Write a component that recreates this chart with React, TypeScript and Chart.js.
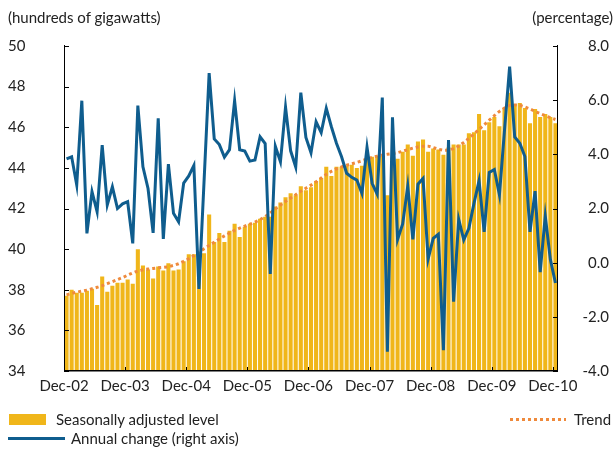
import React, { useEffect, useRef } from 'react';
import { Chart, registerables } from 'chart.js';

Chart.register(...registerables);

const categories = [
  'Dec-02',
  'Jan-03', 'Feb-03', 'Mar-03', 'Apr-03', 'May-03', 'Jun-03', 'Jul-03', 'Aug-03', 'Sep-03', 'Oct-03', 'Nov-03', 'Dec-03',
  'Jan-04', 'Feb-04', 'Mar-04', 'Apr-04', 'May-04', 'Jun-04', 'Jul-04', 'Aug-04', 'Sep-04', 'Oct-04', 'Nov-04', 'Dec-04',
  'Jan-05', 'Feb-05', 'Mar-05', 'Apr-05', 'May-05', 'Jun-05', 'Jul-05', 'Aug-05', 'Sep-05', 'Oct-05', 'Nov-05', 'Dec-05',
  'Jan-06', 'Feb-06', 'Mar-06', 'Apr-06', 'May-06', 'Jun-06', 'Jul-06', 'Aug-06', 'Sep-06', 'Oct-06', 'Nov-06', 'Dec-06',
  'Jan-07', 'Feb-07', 'Mar-07', 'Apr-07', 'May-07', 'Jun-07', 'Jul-07', 'Aug-07', 'Sep-07', 'Oct-07', 'Nov-07', 'Dec-07',
  'Jan-08', 'Feb-08', 'Mar-08', 'Apr-08', 'May-08', 'Jun-08', 'Jul-08', 'Aug-08', 'Sep-08', 'Oct-08', 'Nov-08', 'Dec-08',
  'Jan-09', 'Feb-09', 'Mar-09', 'Apr-09', 'May-09', 'Jun-09', 'Jul-09', 'Aug-09', 'Sep-09', 'Oct-09', 'Nov-09', 'Dec-09',
  'Jan-10', 'Feb-10', 'Mar-10', 'Apr-10', 'May-10', 'Jun-10', 'Jul-10', 'Aug-10', 'Sep-10', 'Oct-10', 'Nov-10', 'Dec-10',
];

// Seasonally adjusted level (hundreds of gigawatts), left axis
const seasonallyAdjusted = [
  37.7,
  38.0, 37.85, 37.85, 37.95, 38.05, 37.25, 38.65, 37.9, 38.2, 38.35, 38.35, 38.5,
  38.3, 40.0, 39.2, 39.0, 38.55, 39.15, 38.95, 39.3, 38.95, 39.0, 39.4, 39.75,
  39.75, 39.85, 39.8, 41.7, 40.35, 40.8, 40.35, 40.9, 41.25, 40.6, 41.1, 41.25,
  41.3, 41.5, 41.6, 41.6, 42.1, 42.3, 42.55, 42.75, 42.65, 43.1, 42.9, 43.05,
  43.35, 43.5, 44.05, 43.6, 44.05, 44.05, 44.1, 44.15, 44.0, 44.1, 44.45, 44.55,
  44.6, 44.6, 42.65, 44.5, 44.45, 44.8, 45.15, 44.6, 45.3, 45.4, 44.8, 44.95,
  44.9, 44.65, 45.0, 45.15, 45.15, 45.15, 45.7, 45.75, 46.65, 45.85, 46.25, 46.5,
  46.05, 46.95, 47.7, 47.15, 47.2, 46.95, 46.2, 46.9, 46.5, 46.65, 46.5, 46.2,
];

// Trend (hundreds of gigawatts), left axis
const trend = [
  37.75,
  37.82, 37.88, 37.93, 37.98, 38.05, 38.12, 38.2, 38.3, 38.4, 38.5, 38.6, 38.72,
  38.83, 38.92, 38.98, 39.02, 39.05, 39.08, 39.1, 39.13, 39.2, 39.28, 39.4, 39.53,
  39.68, 39.85, 40.02, 40.18, 40.34, 40.5, 40.65, 40.79, 40.92, 41.03, 41.13, 41.23,
  41.33, 41.45, 41.6, 41.78, 41.98, 42.17, 42.35, 42.52, 42.68, 42.85, 43.0, 43.15,
  43.32, 43.5, 43.68, 43.83, 43.95, 44.05, 44.13, 44.2, 44.27, 44.35, 44.43, 44.52,
  44.58, 44.63, 44.67, 44.7, 44.75, 44.82, 44.9, 44.97, 45.03, 45.07, 45.07, 45.0,
  44.92, 44.87, 44.87, 44.95, 45.07, 45.25, 45.45, 45.67, 45.9, 46.12, 46.35, 46.57,
  46.78, 46.95, 47.07, 47.1, 47.08, 47.0, 46.9, 46.78, 46.67, 46.57, 46.47, 46.38,
];

// Annual change (percentage), right axis
const annualChange = [
  3.83,
  3.91, 2.87, 5.98, 1.08, 2.62, 1.88, 4.34, 2.13, 2.8, 2.0, 2.17, 2.25,
  0.71, 5.8, 3.54, 2.74, 1.1, 5.33, 0.88, 3.64, 1.82, 1.51, 2.94, 3.2,
  3.59, -0.97, 3.0, 7.0, 4.57, 4.36, 3.9, 4.17, 5.98, 4.17, 4.12, 3.75,
  3.79, 4.65, 4.4, -0.42, 4.3, 3.73, 5.74, 4.13, 3.53, 6.28, 4.62, 4.06,
  5.2, 4.8, 5.7, 5.02, 4.41, 3.91, 3.3, 3.15, 3.05, 2.56, 4.26, 2.93,
  2.53, 6.1, -3.29, 5.37, 0.86, 1.43, 2.83, 0.86, 2.9, 3.11, 0.14, 0.9,
  1.05, -3.23, 4.53, -1.44, 1.6, 0.84, 1.27, 2.19, 3.03, 1.14, 3.33, 3.44,
  2.5, 4.9, 7.24, 4.64, 4.41, 3.92, 1.14, 2.64, -0.35, 1.72, 0.12, -0.75,
];

const leftTicks = { min: 34, max: 50, step: 2 };
const rightTicks = { min: -4, max: 8, step: 2 };

const YELLOW = '#F0B61A';
const BLUE = '#0F5D8E';
const ORANGE = '#EF8A3C';
const TEXT = '#222222';
const FONT = 'Lato, "Open Sans", sans-serif';

const axisPlugin = {
  id: 'axisDecor',
  afterDatasetsDraw(chart: any) {
    const { ctx, chartArea, scales } = chart;
    const { left, right, top, bottom } = chartArea;
    const line = (x1: number, y1: number, x2: number, y2: number) => {
      ctx.beginPath();
      ctx.moveTo(x1, y1);
      ctx.lineTo(x2, y2);
      ctx.stroke();
    };
    ctx.save();
    ctx.strokeStyle = '#000';
    ctx.lineWidth = 1;
    line(left + 0.5, top - 1, left + 0.5, bottom);
    line(right - 0.5, top - 1, right - 0.5, bottom);
    scales.y.ticks.forEach((t: any) => {
      const yy = Math.round(scales.y.getPixelForValue(t.value)) + 0.5;
      line(left, yy, left + 5, yy);
    });
    scales.y1.ticks.forEach((t: any) => {
      const yy = Math.round(scales.y1.getPixelForValue(t.value)) + 0.5;
      line(right - 5, yy, right, yy);
    });
    const half = (scales.x.getPixelForValue(1) - scales.x.getPixelForValue(0)) / 2;
    categories.forEach((c, i) => {
      if (c.startsWith('Dec')) {
        const xx = Math.round(scales.x.getPixelForValue(i) - half) + 0.5;
        line(xx, bottom - 4, xx, bottom);
      }
    });
    ctx.lineWidth = 1.5;
    line(left, bottom - 0.25, right, bottom - 0.25);
    ctx.restore();
  },
};

export default function App() {
  const canvasRef = useRef<HTMLCanvasElement | null>(null);

  useEffect(() => {
    if (!canvasRef.current) return;
    Chart.defaults.font.family = FONT;
    Chart.defaults.font.size = 15;
    Chart.defaults.color = TEXT;
    const chart = new Chart(canvasRef.current, {
      type: 'bar',
      data: {
        labels: categories,
        datasets: [
          {
            type: 'line',
            label: 'Annual change (right axis)',
            data: annualChange,
            yAxisID: 'y1',
            borderColor: BLUE,
            borderWidth: 3,
            pointRadius: 0,
            tension: 0,
            order: 0,
          } as any,
          {
            type: 'line',
            label: 'Trend',
            data: trend,
            yAxisID: 'y',
            borderColor: ORANGE,
            borderWidth: 3,
            borderDash: [3, 3],
            borderCapStyle: 'butt',
            pointRadius: 0,
            tension: 0,
            order: 1,
          } as any,
          {
            type: 'bar',
            label: 'Seasonally adjusted level',
            data: seasonallyAdjusted,
            yAxisID: 'y',
            backgroundColor: YELLOW,
            categoryPercentage: 1,
            barPercentage: 0.8,
            order: 2,
          } as any,
        ],
      },
      options: {
        animation: false,
        responsive: false,
        maintainAspectRatio: false,
        devicePixelRatio: 1,
        layout: { padding: { left: 8, right: 5, top: 46, bottom: 48 } },
        plugins: { legend: { display: false }, tooltip: { enabled: false } },
        scales: {
          x: {
            offset: true,
            grid: { display: false, drawTicks: false },
            border: { display: false },
            ticks: {
              autoSkip: false,
              maxRotation: 0,
              minRotation: 0,
              padding: 6,
              labelOffset: -2.55,
              color: TEXT,
              font: { family: FONT, size: 15 },
              callback: (_v: any, i: number) => (categories[i].startsWith('Dec') ? categories[i] : ''),
            },
            afterFit: (s: any) => {
              s.height = 30;
            },
          },
          y: {
            position: 'left',
            min: leftTicks.min,
            max: leftTicks.max,
            grid: { display: false, drawTicks: false },
            border: { display: false },
            ticks: {
              stepSize: leftTicks.step,
              crossAlign: 'far',
              color: TEXT,
              font: { family: FONT, size: 15 },
            },
            afterFit: (s: any) => {
              s.width = 56;
            },
          },
          y1: {
            position: 'right',
            min: rightTicks.min,
            max: rightTicks.max,
            grid: { display: false, drawTicks: false },
            border: { display: false },
            ticks: {
              stepSize: rightTicks.step,
              crossAlign: 'far',
              color: TEXT,
              font: { family: FONT, size: 15 },
              callback: (v: any) => Number(v).toFixed(1),
            },
            afterFit: (s: any) => {
              s.width = 51;
            },
          },
        },
      } as any,
      plugins: [axisPlugin],
    });
    return () => chart.destroy();
  }, []);

  const textStyle: React.CSSProperties = {
    position: 'absolute',
    fontFamily: FONT,
    fontSize: 15,
    lineHeight: '18px',
    color: TEXT,
    whiteSpace: 'nowrap',
  };

  return (
    <div style={{ position: 'fixed', left: 0, top: 0, width: 614, height: 449, background: '#fff', overflow: 'hidden' }}>
      <canvas ref={canvasRef} width={614} height={449} style={{ position: 'absolute', left: 0, top: 0, width: 614, height: 449 }} />
      <div style={{ ...textStyle, left: 8, top: 8 }}>(hundreds of gigawatts)</div>
      <div style={{ ...textStyle, right: 1, top: 8 }}>(percentage)</div>
      <div style={{ position: 'absolute', left: 9, top: 414, width: 37, height: 11, background: YELLOW }} />
      <div style={{ ...textStyle, left: 56, top: 410 }}>Seasonally adjusted level</div>
      <div style={{ position: 'absolute', left: 8, top: 436.5, width: 57, height: 3, background: BLUE }} />
      <div style={{ ...textStyle, left: 71, top: 429 }}>Annual change (right axis)</div>
      <div
        style={{
          position: 'absolute',
          left: 510,
          top: 417.5,
          width: 56,
          height: 3,
          background: `repeating-linear-gradient(to right, ${ORANGE} 0px, ${ORANGE} 3px, transparent 3px, transparent 6px)`,
        }}
      />
      <div style={{ ...textStyle, left: 574, top: 410 }}>Trend</div>
    </div>
  );
}
